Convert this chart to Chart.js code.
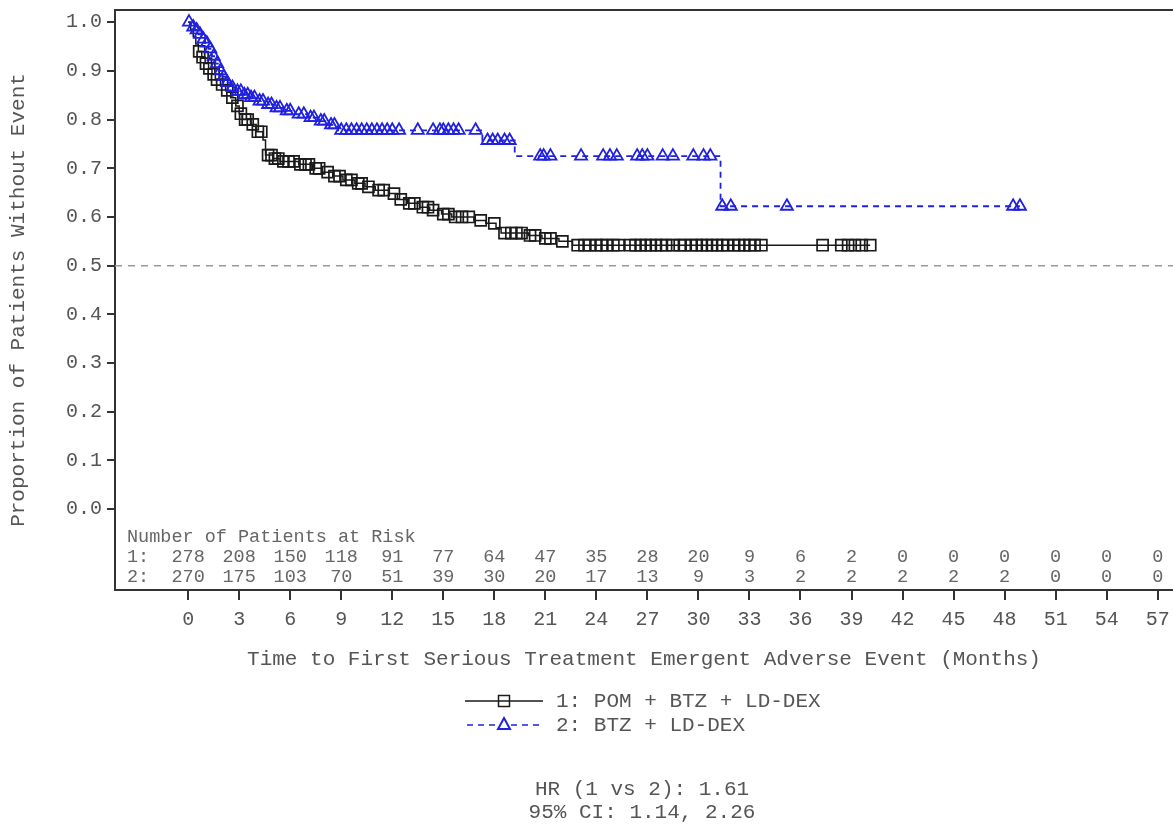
<!DOCTYPE html>
<html>
<head>
<meta charset="utf-8">
<script src="https://cdn.jsdelivr.net/npm/chart.js@4.4.1/dist/chart.umd.min.js"></script>
<style>
  html, body { margin: 0; padding: 0; background: #fff; }
  #wrap { position: relative; width: 1173px; height: 825px; }
</style>
</head>
<body>
<div id="wrap"><canvas id="kmChart" width="1173" height="825"></canvas></div>
<script>
// Kaplan-Meier: time to first serious TEAE, months
const arm1Label = "1: POM + BTZ + LD-DEX";
const arm2Label = "2: BTZ + LD-DEX";

// arm 1 event steps (time, survival after the step)
const arm1EventTimes = [0.15, 0.3, 0.45, 0.6, 0.8, 1.0, 1.2, 1.4, 1.6, 1.9, 2.2, 2.5, 2.8, 3.0, 3.2, 3.7, 4.0, 4.4, 4.55, 5.0, 5.4, 6.5, 7.3, 7.9, 8.5, 9.1, 9.8, 10.4, 11.0, 11.8, 12.3, 12.9, 13.6, 14.2, 14.9, 15.5, 16.8, 17.5, 18.1, 18.4, 20.0, 20.8, 21.8, 22.6];
const arm1EventSurv  = [0.985, 0.97, 0.955, 0.94, 0.928, 0.915, 0.905, 0.893, 0.882, 0.872, 0.86, 0.845, 0.828, 0.812, 0.80, 0.79, 0.775, 0.758, 0.727, 0.72, 0.714, 0.708, 0.70, 0.692, 0.684, 0.676, 0.669, 0.662, 0.655, 0.648, 0.636, 0.628, 0.62, 0.614, 0.606, 0.60, 0.593, 0.587, 0.578, 0.567, 0.562, 0.556, 0.55, 0.542];
const arm1CensorTimes = [0.65, 0.85, 1.05, 1.25, 1.5, 1.7, 2.0, 2.3, 2.6, 2.9, 3.1, 3.35, 3.5, 3.8, 4.1, 4.3, 4.7, 4.9, 5.1, 5.3, 5.6, 5.9, 6.2, 6.6, 6.9, 7.1, 7.5, 7.7, 8.2, 8.6, 8.9, 9.3, 9.6, 10.0, 10.2, 10.6, 11.2, 11.5, 12.1, 12.5, 13.0, 13.3, 13.8, 14.1, 14.4, 15.0, 15.3, 15.7, 16.1, 16.5, 17.2, 18.0, 18.6, 19.0, 19.3, 19.6, 20.1, 20.4, 21.0, 21.3, 22.0, 22.9, 23.3, 23.6, 24.0, 24.3, 24.6, 25.0, 25.3, 26.0, 26.3, 26.6, 26.9, 27.2, 27.5, 27.8, 28.1, 28.5, 28.9, 29.2, 29.6, 29.9, 30.2, 30.5, 30.8, 31.1, 31.4, 31.7, 32.1, 32.4, 32.7, 33.0, 33.3, 33.7, 37.3, 38.4, 38.8, 39.2, 39.6, 40.1];

// arm 2 event steps
const arm2EventTimes = [0.1, 0.25, 0.4, 0.6, 0.8, 1.0, 1.2, 1.4, 1.6, 1.8, 2.0, 2.2, 2.5, 2.8, 3.2, 3.6, 4.0, 4.5, 5.0, 5.6, 6.3, 7.0, 7.6, 8.2, 8.8, 17.3, 19.2, 31.3];
const arm2EventSurv  = [0.995, 0.99, 0.984, 0.975, 0.965, 0.957, 0.945, 0.93, 0.915, 0.90, 0.888, 0.876, 0.866, 0.858, 0.851, 0.845, 0.838, 0.831, 0.824, 0.818, 0.811, 0.804, 0.797, 0.789, 0.778, 0.757, 0.725, 0.622];
const arm2CensorTimes = [0.05, 0.3, 0.5, 0.7, 0.9, 1.1, 1.3, 1.5, 1.7, 1.9, 2.1, 2.3, 2.6, 2.9, 3.1, 3.3, 3.5, 3.7, 3.9, 4.2, 4.4, 4.7, 4.9, 5.2, 5.4, 5.8, 6.0, 6.5, 6.8, 7.2, 7.4, 7.8, 8.0, 8.4, 8.6, 9.0, 9.3, 9.6, 9.9, 10.2, 10.5, 10.8, 11.1, 11.4, 11.7, 12.0, 12.4, 13.5, 14.4, 14.8, 15.0, 15.3, 15.6, 15.9, 16.9, 17.6, 17.9, 18.2, 18.6, 18.9, 20.7, 20.9, 21.3, 23.1, 24.4, 24.8, 25.2, 26.4, 26.7, 27.0, 27.9, 28.5, 29.7, 30.3, 30.7, 31.4, 31.9, 35.2, 48.5, 48.9];

// numbers at risk (also the x tick positions)
const riskTimes = [0, 3, 6, 9, 12, 15, 18, 21, 24, 27, 30, 33, 36, 39, 42, 45, 48, 51, 54, 57];
const riskArm1 = [278, 208, 150, 118, 91, 77, 64, 47, 35, 28, 20, 9, 6, 2, 0, 0, 0, 0, 0, 0];
const riskArm2 = [270, 175, 103, 70, 51, 39, 30, 20, 17, 13, 9, 3, 2, 2, 2, 2, 2, 0, 0, 0];

const yTicks = [0, 0.1, 0.2, 0.3, 0.4, 0.5, 0.6, 0.7, 0.8, 0.9, 1.0];
const medianLine = 0.5;
const hrLines = ["HR (1 vs 2): 1.61", "95% CI: 1.14, 2.26"];

const MONO = '"Liberation Mono", "DejaVu Sans Mono", monospace';
const BLACK = '#1a1a1a';
const BLUE = '#2020e0';
const TEXT = '#555';

function survAt(times, surv, t) {
    let s = 1;
    for (let i = 0; i < times.length; i++) {
        if (times[i] <= t) s = surv[i];
    }
    return s;
}

function stepPoints(times, surv, lastTime) {
    const pts = [{ x: 0, y: 1 }];
    times.forEach((t, i) => pts.push({ x: t, y: surv[i] }));
    pts.push({ x: lastTime, y: surv[surv.length - 1] });
    return pts;
}

function censorPoints(times, evTimes, evSurv) {
    return times.map(t => ({ x: t, y: survAt(evTimes, evSurv, t) }));
}

const arm1Line = stepPoints(arm1EventTimes, arm1EventSurv, arm1CensorTimes[arm1CensorTimes.length - 1]);
const arm2Line = stepPoints(arm2EventTimes, arm2EventSurv, arm2CensorTimes[arm2CensorTimes.length - 1]);

// frame, reference line, tick labels, risk table, legend and HR text
const extras = {
    id: 'kmExtras',
    beforeDatasetsDraw(chart) {
        const { ctx, chartArea, scales } = chart;
        const y = scales.y.getPixelForValue(medianLine);
        ctx.save();
        ctx.strokeStyle = '#999';
        ctx.lineWidth = 1.5;
        ctx.setLineDash([7, 6]);
        ctx.beginPath();
        ctx.moveTo(chartArea.left, y);
        ctx.lineTo(chart.width, y);
        ctx.stroke();
        ctx.restore();
    },
    afterDraw(chart) {
        const { ctx, chartArea, scales } = chart;
        ctx.save();
        // top frame
        ctx.strokeStyle = '#333';
        ctx.lineWidth = 2;
        ctx.beginPath();
        ctx.moveTo(chartArea.left - 1, chartArea.top);
        ctx.lineTo(chart.width, chartArea.top);
        ctx.stroke();

        // tick labels
        ctx.fillStyle = TEXT;
        ctx.font = '20px ' + MONO;
        ctx.textBaseline = 'middle';
        ctx.textAlign = 'center';
        riskTimes.forEach(t => ctx.fillText(String(t), scales.x.getPixelForValue(t), chartArea.bottom + 30));
        ctx.textAlign = 'right';
        yTicks.forEach(v => ctx.fillText(v.toFixed(1), chartArea.left - 13, scales.y.getPixelForValue(v)));

        // at-risk table
        ctx.fillStyle = '#666';
        ctx.font = '18.5px ' + MONO;
        ctx.textAlign = 'left';
        const x0 = chartArea.left + 12;
        ctx.fillText('Number of Patients at Risk', x0, chartArea.bottom - 53);
        ctx.fillText('1:', x0, chartArea.bottom - 33);
        ctx.fillText('2:', x0, chartArea.bottom - 13);
        ctx.textAlign = 'center';
        riskTimes.forEach((t, i) => {
            const px = scales.x.getPixelForValue(t);
            ctx.fillText(String(riskArm1[i]), px, chartArea.bottom - 33);
            ctx.fillText(String(riskArm2[i]), px, chartArea.bottom - 13);
        });

        // x axis title
        ctx.fillStyle = TEXT;
        ctx.font = '21px ' + MONO;
        ctx.fillText('Time to First Serious Treatment Emergent Adverse Event (Months)', 644, 659);

        // legend
        const lx = 465, mx = 504, tx = 556;
        const ly1 = 701, ly2 = 725;
        ctx.lineWidth = 1.5;
        ctx.strokeStyle = BLACK;
        ctx.beginPath();
        ctx.moveTo(lx, ly1);
        ctx.lineTo(543, ly1);
        ctx.stroke();
        ctx.strokeRect(mx - 5.5, ly1 - 5.5, 11, 11);
        ctx.strokeStyle = BLUE;
        ctx.setLineDash([6, 5]);
        ctx.beginPath();
        ctx.moveTo(lx + 2, ly2);
        ctx.lineTo(543, ly2);
        ctx.stroke();
        ctx.setLineDash([]);
        ctx.lineWidth = 2;
        ctx.beginPath();
        ctx.moveTo(mx, ly2 - 7);
        ctx.lineTo(mx + 6, ly2 + 4);
        ctx.lineTo(mx - 6, ly2 + 4);
        ctx.closePath();
        ctx.fillStyle = '#fff';
        ctx.fill();
        ctx.stroke();
        ctx.fillStyle = TEXT;
        ctx.textAlign = 'left';
        ctx.fillText(arm1Label, tx, ly1);
        ctx.fillText(arm2Label, tx, ly2);

        // hazard ratio
        ctx.textAlign = 'center';
        hrLines.forEach((s, i) => ctx.fillText(s, 642, 789 + i * 23));
        ctx.restore();
    }
};

new Chart(document.getElementById('kmChart'), {
    type: 'scatter',
    data: {
        datasets: [
            {
                data: censorPoints(arm2CensorTimes, arm2EventTimes, arm2EventSurv),
                showLine: false,
                pointStyle: 'triangle',
                pointRadius: 7,
                borderColor: BLUE,
                backgroundColor: 'rgba(0,0,0,0)',
                pointBorderWidth: 1.8
            },
            {
                data: arm2Line,
                showLine: true,
                stepped: 'before',
                borderColor: BLUE,
                borderWidth: 1.8,
                borderDash: [6, 5],
                pointRadius: 0
            },
            {
                data: censorPoints(arm1CensorTimes, arm1EventTimes, arm1EventSurv),
                showLine: false,
                pointStyle: 'rect',
                pointRadius: 7.8,
                borderColor: BLACK,
                backgroundColor: 'rgba(0,0,0,0)',
                pointBorderWidth: 1.7
            },
            {
                data: arm1Line,
                showLine: true,
                stepped: 'before',
                borderColor: BLACK,
                borderWidth: 1.5,
                pointRadius: 0
            }
        ]
    },
    options: {
        responsive: false,
        animation: false,
        events: [],
        layout: { autoPadding: false, padding: { top: 10, right: 0, left: 0, bottom: 0 } },
        plugins: { legend: { display: false }, tooltip: { enabled: false } },
        scales: {
            x: {
                type: 'linear',
                min: -4.3,
                max: 57.9,
                afterFit: s => { s.height = 235; },
                afterBuildTicks: s => { s.ticks = riskTimes.map(v => ({ value: v })); },
                grid: { display: true, drawOnChartArea: false, drawTicks: true, tickLength: 10, color: '#333', lineWidth: 2 },
                border: { display: true, color: '#333', width: 2 },
                ticks: { display: false }
            },
            y: {
                type: 'linear',
                min: -0.166,
                max: 1.025,
                afterFit: s => { s.width = 115; },
                afterBuildTicks: s => { s.ticks = yTicks.map(v => ({ value: v })); },
                grid: { display: true, drawOnChartArea: false, drawTicks: true, tickLength: 8, color: '#333', lineWidth: 2 },
                border: { display: true, color: '#333', width: 2 },
                ticks: { display: false },
                title: { display: true, text: 'Proportion of Patients Without Event', color: TEXT, font: { family: MONO, size: 21 }, padding: { top: 6, bottom: 0 } }
            }
        }
    },
    plugins: [extras]
});
</script>
</body>
</html>
